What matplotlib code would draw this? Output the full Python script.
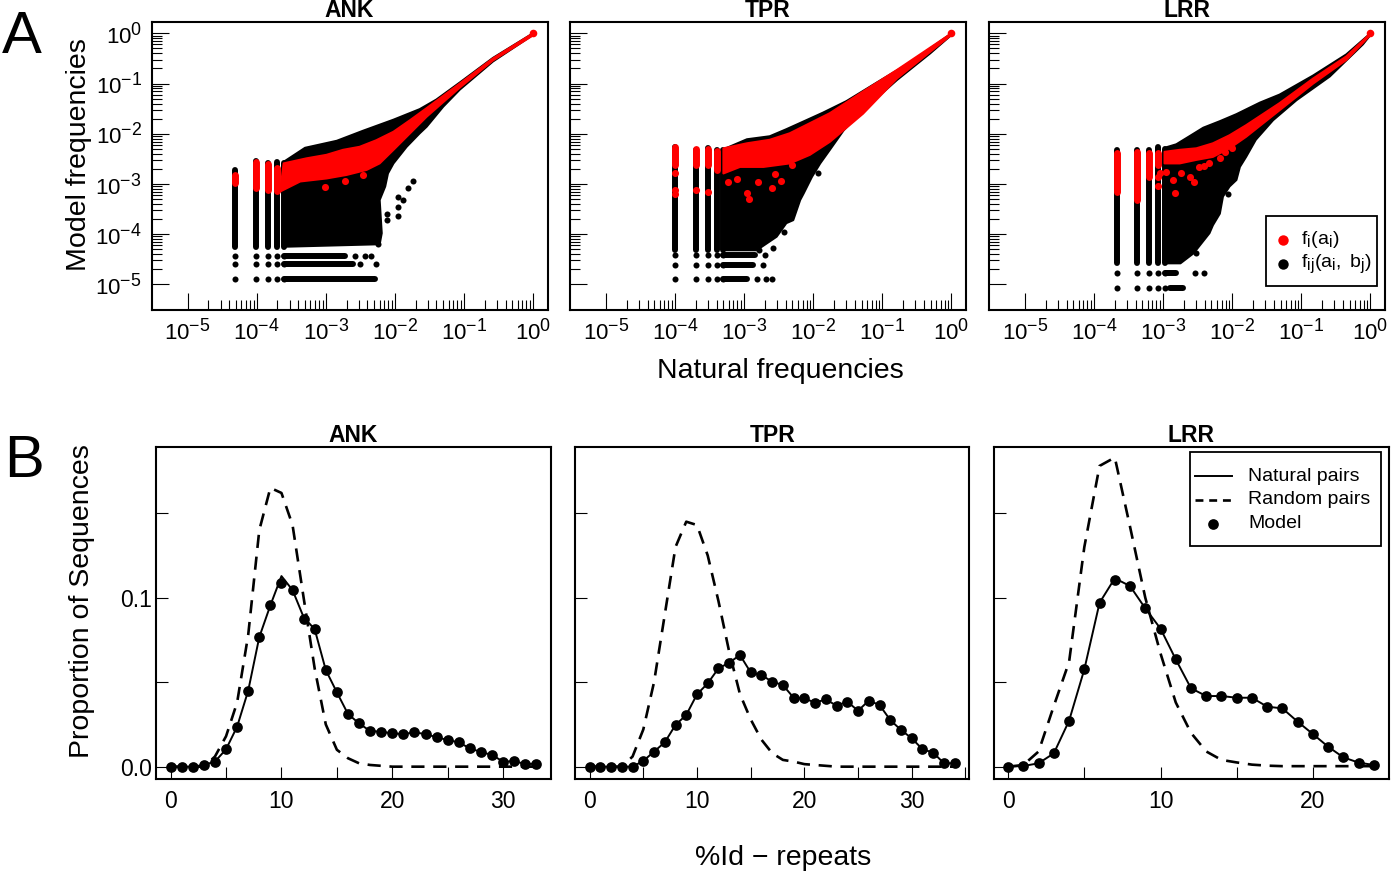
"""
Two-row figure: A) model vs natural frequencies (log-log), B) %Id distributions.
"""
import numpy as np
import matplotlib
matplotlib.use('Agg')
import matplotlib.pyplot as plt
import matplotlib._mathtext as mathtext_internals
from matplotlib.lines import Line2D
from matplotlib.patches import Rectangle

plt.rcParams['font.family'] = ['Liberation Sans', 'DejaVu Sans']
plt.rcParams['mathtext.fontset'] = 'custom'
plt.rcParams['mathtext.rm'] = 'Liberation Sans'
plt.rcParams['mathtext.it'] = 'Liberation Sans:italic'
plt.rcParams['mathtext.bf'] = 'Liberation Sans:bold'
# R draws its superscripts a bit larger than mathtext does
mathtext_internals.SHRINK_FACTOR = 0.8

families = ['ANK', 'TPR', 'LRR']

# ---------------- panel A (all values in log10 units) ----------------
# discrete columns at the lowest natural frequencies (k/N)
ank_col_x = [-4.31, -4.01, -3.83, -3.71, -3.61]
ank_col_top = [-2.72, -2.54, -2.58, -2.56, -2.58]
ank_col_bot = [-4.25, -4.25, -4.25, -4.25, -4.25]
tpr_col_x = [-4.00, -3.70, -3.52, -3.40, -3.30]
tpr_col_top = [-2.27, -2.32, -2.28, -2.33, -2.33]
tpr_col_bot = [-4.32, -4.32, -4.32, -4.32, -4.32]
lrr_col_x = [-3.675, -3.377, -3.20, -3.07, -2.98]
lrr_col_top = [-2.33, -2.32, -2.33, -2.26, -2.30]
lrr_col_bot = [-4.58, -4.58, -4.58, -4.58, -4.58]

# discrete rows of low model frequencies
ank_row_y = [-4.43, -4.60, -4.90]
ank_row_x0 = [-3.61, -3.61, -3.61]
ank_row_x1 = [-2.72, -2.60, -2.29]
tpr_row_y = [-4.42, -4.61, -4.90]
tpr_row_x0 = [-3.30, -3.30, -3.30]
tpr_row_x1 = [-2.84, -2.87, -2.96]
lrr_row_y = [-4.77, -5.07]
lrr_row_x0 = [-2.98, -2.895]
lrr_row_x1 = [-2.81, -2.71]

# outline of the dense black cloud f_ij
ank_up_x = [-3.61, -3.30, -2.84, -2.46, -2.02, -1.64, -1.40, -1.06, -0.58, 0.0]
ank_up_y = [-2.56, -2.28, -2.14, -1.94, -1.72, -1.51, -1.32, -0.98, -0.49, 0.0]
ank_lo_x = [-3.61, -2.22, -2.19, -2.22, -2.14, -2.10, -2.02, -1.83, -1.64, -1.54, -1.30, -1.06, -0.58, 0.0]
ank_lo_y = [-4.25, -4.20, -3.98, -3.32, -3.05, -2.79, -2.59, -2.26, -1.99, -1.86, -1.46, -1.12, -0.56, -0.03]
tpr_up_x = [-3.30, -2.96, -2.63, -2.39, -2.10, -1.86, -1.52, -1.08, -0.55, 0.0]
tpr_up_y = [-2.31, -2.11, -2.05, -1.91, -1.73, -1.58, -1.35, -0.98, -0.54, 0.0]
tpr_lo_x = [-3.30, -2.82, -2.53, -2.39, -2.29, -2.19, -2.14, -2.02, -1.90, -1.76, -1.56, -1.28, -0.79, -0.31, 0.0]
tpr_lo_y = [-4.32, -4.32, -4.05, -3.78, -3.72, -3.32, -3.19, -2.86, -2.59, -2.32, -1.93, -1.53, -0.93, -0.40, -0.03]
lrr_up_x = [-2.98, -2.81, -2.62, -2.42, -2.18, -1.94, -1.60, -1.315, -0.83, -0.35, 0.0]
lrr_up_y = [-2.28, -2.21, -2.05, -1.88, -1.75, -1.61, -1.38, -1.22, -0.84, -0.42, 0.0]
lrr_lo_x = [-2.98, -2.75, -2.56, -2.33, -2.28, -2.18, -2.135, -2.04, -1.94, -1.89, -1.80, -1.66, -1.41, -1.07, -0.59, -0.11, 0.0]
lrr_lo_y = [-4.58, -4.58, -4.38, -3.98, -3.82, -3.59, -3.25, -3.05, -2.92, -2.66, -2.46, -2.12, -1.73, -1.33, -0.86, -0.22, -0.03]

# isolated black points
ank_dot_x = [-2.58, -2.43, -2.34, -2.51, -2.27, -1.95, -1.95, -1.95, -1.88, -1.81, -1.74, -2.12, -2.12, -2.24]
ank_dot_y = [-4.43, -4.43, -4.43, -4.60, -4.60, -3.25, -3.45, -3.64, -3.31, -3.09, -2.95, -3.59, -3.72, -4.20]
tpr_dot_x = [-2.70, -2.73, -2.81, -2.69, -2.60, -2.43, -1.93, -2.78, -2.58]
tpr_dot_y = [-4.42, -4.61, -4.90, -4.90, -4.90, -3.95, -2.79, -4.32, -4.28]
lrr_dot_x = [-2.54, -2.41, -2.06, -2.52]
lrr_dot_y = [-4.77, -4.77, -3.19, -4.38]

# red single-site frequencies f_i
ank_rcol_x = [-4.31, -4.01, -3.83, -3.71]
ank_rcol_top = [-2.82, -2.57, -2.60, -2.69]
ank_rcol_bot = [-2.99, -3.09, -3.12, -3.14]
tpr_rcol_x = [-4.00, -3.70, -3.52, -3.40]
tpr_rcol_top = [-2.26, -2.31, -2.31, -2.35]
tpr_rcol_bot = [-2.63, -2.63, -2.63, -2.73]
lrr_rcol_x = [-3.675, -3.377, -3.20, -3.07]
lrr_rcol_top = [-2.39, -2.37, -2.39, -2.39]
lrr_rcol_bot = [-3.16, -3.32, -2.86, -2.63]

ank_rup_x = [-3.61, -3.28, -2.99, -2.75, -2.51, -2.27, -2.02, -1.78, -1.54, -1.06, -0.58, 0.0]
ank_rup_y = [-2.59, -2.49, -2.42, -2.32, -2.26, -2.13, -1.96, -1.73, -1.49, -1.00, -0.50, 0.0]
ank_rlo_x = [-3.66, -3.37, -2.99, -2.70, -2.41, -2.22, -2.02, -1.78, -1.54, -1.06, -0.58, 0.0]
ank_rlo_y = [-3.15, -2.95, -2.89, -2.82, -2.72, -2.59, -2.32, -1.99, -1.66, -1.08, -0.54, -0.04]
tpr_rup_x = [-3.30, -2.96, -2.63, -2.34, -2.05, -1.76, -1.28, -0.79, 0.0]
tpr_rup_y = [-2.29, -2.19, -2.12, -1.99, -1.79, -1.59, -1.16, -0.73, 0.0]
tpr_rlo_x = [-3.30, -3.06, -2.72, -2.34, -2.05, -1.76, -1.28, -0.79, -0.31, 0.0]
tpr_rlo_y = [-2.79, -2.66, -2.66, -2.59, -2.42, -2.16, -1.60, -0.90, -0.37, -0.03]
lrr_rup_x = [-2.98, -2.76, -2.52, -2.28, -2.04, -1.80, -1.315, -0.83, -0.35, 0.0]
lrr_rup_y = [-2.36, -2.32, -2.29, -2.19, -2.03, -1.83, -1.39, -0.90, -0.46, 0.0]
lrr_rlo_x = [-2.98, -2.76, -2.52, -2.28, -2.04, -1.80, -1.315, -0.83, -0.35, 0.0]
lrr_rlo_y = [-2.59, -2.59, -2.52, -2.46, -2.29, -2.06, -1.53, -1.00, -0.53, -0.03]

ank_rdot_x = [-3.01, -2.72, -2.46]
ank_rdot_y = [-3.07, -2.95, -2.82]
tpr_rdot_x = [-4.00, -4.00, -4.00, -3.70, -3.52, -3.23, -3.11, -2.96, -2.93, -2.80, -2.55, -2.60, -2.46, -2.31]
tpr_rdot_y = [-2.79, -3.12, -3.19, -3.12, -3.15, -2.97, -2.91, -3.17, -3.30, -2.97, -2.80, -3.09, -2.95, -2.62]
lrr_rdot_x = [-3.07, -3.07, -3.05, -2.96, -2.86, -2.83, -2.74, -2.61, -2.56, -2.48, -2.41, -2.34, -2.18, -2.11, -2.01]
lrr_rdot_y = [-2.86, -3.05, -2.79, -2.76, -2.92, -3.17, -2.79, -2.86, -2.97, -2.66, -2.64, -2.59, -2.49, -2.36, -2.29]

# ---------------- panel B ----------------
ank_pid = list(range(34))
ank_model = [0, 0, 0, 0.001, 0.003, 0.0103, 0.0237, 0.045, 0.0767, 0.0955, 0.1089, 0.1045,
             0.0872, 0.0813, 0.0572, 0.044, 0.0312, 0.0256, 0.0211, 0.0207, 0.0197, 0.0193,
             0.0203, 0.0193, 0.0174, 0.0158, 0.0144, 0.0108, 0.0087, 0.0069, 0.003, 0.0032,
             0.0016, 0.0018]
ank_natural = [0, 0, 0, 0.001, 0.003, 0.0103, 0.0237, 0.045, 0.0767, 0.0955, 0.1128, 0.1045,
               0.0885, 0.0813, 0.0572, 0.044, 0.0312, 0.0256, 0.0211, 0.0207, 0.0197, 0.0193,
               0.0203, 0.0193, 0.0174, 0.0158, 0.0144, 0.0108, 0.0087, 0.0069, 0.003, 0.0032,
               0.0016, 0.0018]
ank_random = [0, 0, 0, 0, 0.006, 0.018, 0.038, 0.078, 0.14, 0.165, 0.162, 0.143, 0.1, 0.058,
              0.025, 0.01, 0.005, 0.002, 0.001, 0.0005, 0, 0, 0, 0, 0, 0, 0, 0, 0, 0, 0, 0, 0, 0]

tpr_pid = list(range(35))
tpr_model = [0, 0, 0, 0, 0, 0.0034, 0.0089, 0.0144, 0.0247, 0.0306, 0.0428, 0.0493, 0.0582,
             0.0611, 0.0661, 0.0558, 0.0542, 0.0503, 0.0483, 0.0408, 0.0404, 0.0379, 0.0398,
             0.0361, 0.0385, 0.0331, 0.0391, 0.0365, 0.0276, 0.0217, 0.0168, 0.0103, 0.0083,
             0.002, 0.002]
tpr_natural = [0, 0, 0, 0, 0, 0.0034, 0.0089, 0.0144, 0.0247, 0.0306, 0.0428, 0.0493, 0.0582,
               0.0615, 0.0661, 0.0558, 0.0542, 0.0503, 0.0483, 0.0408, 0.0404, 0.0379, 0.0398,
               0.0361, 0.0385, 0.0331, 0.0391, 0.0365, 0.0276, 0.0217, 0.0168, 0.0103, 0.0083,
               0.002, 0.002]
tpr_random = [0, 0, 0, 0, 0.006, 0.022, 0.05, 0.09, 0.13, 0.145, 0.143, 0.125, 0.098, 0.068,
              0.043, 0.028, 0.016, 0.008, 0.004, 0.003, 0.0015, 0.001, 0.0005, 0, 0, 0, 0, 0,
              0, 0, 0, 0, 0, 0, 0]

lrr_pid = list(range(25))
lrr_model = [0, 0.0004, 0.002, 0.0079, 0.0272, 0.0576, 0.097, 0.1105, 0.1069, 0.0937, 0.0817,
             0.0635, 0.0464, 0.0418, 0.0418, 0.0408, 0.0408, 0.0355, 0.0345, 0.0266, 0.0193,
             0.0118, 0.0055, 0.0024, 0.001]
lrr_natural = [0, 0.0004, 0.002, 0.0079, 0.0272, 0.0576, 0.097, 0.1115, 0.1069, 0.0937, 0.0817,
               0.0635, 0.0464, 0.0418, 0.0418, 0.0408, 0.0408, 0.0355, 0.0345, 0.0266, 0.0193,
               0.0118, 0.0055, 0.0024, 0.001]
lrr_random = [0, 0.001, 0.009, 0.036, 0.062, 0.13, 0.178, 0.183, 0.142, 0.1, 0.067, 0.038, 0.02,
              0.009, 0.004, 0.0025, 0.0012, 0.0006, 0.0003, 0.0003, 0.0003, 0.0003, 0.0003,
              0.0003, 0.0003]

W, H = 1391, 877
fig = plt.figure(figsize=(W / 100, H / 100), dpi=100)


def px_axes(l, t, r, b):
    return fig.add_axes([l / W, 1 - b / H, (r - l) / W, (b - t) / H])


def fx(x):
    return x / W


def fy(y):
    return 1 - y / H


def e(v):
    return 10 ** np.asarray(v, dtype=float)


def draw_scatter(ax, d):
    # black pair frequencies
    ax.fill(e(d['up_x'] + d['lo_x'][::-1]), e(d['up_y'] + d['lo_y'][::-1]),
            color='black', lw=1.5, joinstyle='round', zorder=2)
    ax.vlines(e(d['col_x']), e(d['col_bot']), e(d['col_top']), color='black',
              lw=4.3, capstyle='round', zorder=2)
    for ry, x0, x1 in zip(d['row_y'], d['row_x0'], d['row_x1']):
        ax.hlines(e(ry), e(x0), e(x1), color='black', lw=4.3, capstyle='round', zorder=2)
        ax.scatter(e(d['col_x']), e([ry] * len(d['col_x'])), s=19, color='black',
                   lw=0, zorder=2)
    ax.scatter(e(d['dot_x']), e(d['dot_y']), s=19, color='black', lw=0, zorder=2)
    # red single-site frequencies
    ax.fill(e(d['rup_x'] + d['rlo_x'][::-1]), e(d['rup_y'] + d['rlo_y'][::-1]),
            color='#ff0000', lw=1.5, joinstyle='round', zorder=3)
    ax.vlines(e(d['rcol_x']), e(d['rcol_bot']), e(d['rcol_top']), color='#ff0000',
              lw=5, capstyle='round', zorder=3)
    ax.scatter(e(d['rdot_x']), e(d['rdot_y']), s=26, color='#ff0000', lw=0, zorder=3)
    ax.scatter([1.0], [1.0], s=30, color='#ff0000', lw=0, zorder=3)


scatter_data = {
    'ANK': dict(col_x=ank_col_x, col_top=ank_col_top, col_bot=ank_col_bot,
                row_y=ank_row_y, row_x0=ank_row_x0, row_x1=ank_row_x1,
                up_x=ank_up_x, up_y=ank_up_y, lo_x=ank_lo_x, lo_y=ank_lo_y,
                dot_x=ank_dot_x, dot_y=ank_dot_y,
                rcol_x=ank_rcol_x, rcol_top=ank_rcol_top, rcol_bot=ank_rcol_bot,
                rup_x=ank_rup_x, rup_y=ank_rup_y, rlo_x=ank_rlo_x, rlo_y=ank_rlo_y,
                rdot_x=ank_rdot_x, rdot_y=ank_rdot_y),
    'TPR': dict(col_x=tpr_col_x, col_top=tpr_col_top, col_bot=tpr_col_bot,
                row_y=tpr_row_y, row_x0=tpr_row_x0, row_x1=tpr_row_x1,
                up_x=tpr_up_x, up_y=tpr_up_y, lo_x=tpr_lo_x, lo_y=tpr_lo_y,
                dot_x=tpr_dot_x, dot_y=tpr_dot_y,
                rcol_x=tpr_rcol_x, rcol_top=tpr_rcol_top, rcol_bot=tpr_rcol_bot,
                rup_x=tpr_rup_x, rup_y=tpr_rup_y, rlo_x=tpr_rlo_x, rlo_y=tpr_rlo_y,
                rdot_x=tpr_rdot_x, rdot_y=tpr_rdot_y),
    'LRR': dict(col_x=lrr_col_x, col_top=lrr_col_top, col_bot=lrr_col_bot,
                row_y=lrr_row_y, row_x0=lrr_row_x0, row_x1=lrr_row_x1,
                up_x=lrr_up_x, up_y=lrr_up_y, lo_x=lrr_lo_x, lo_y=lrr_lo_y,
                dot_x=lrr_dot_x, dot_y=lrr_dot_y,
                rcol_x=lrr_rcol_x, rcol_top=lrr_rcol_top, rcol_bot=lrr_rcol_bot,
                rup_x=lrr_rup_x, rup_y=lrr_rup_y, rlo_x=lrr_rlo_x, rlo_y=lrr_rlo_y,
                rdot_x=lrr_rdot_x, rdot_y=lrr_rdot_y),
}

ident_data = {
    'ANK': (ank_pid, ank_natural, ank_random, ank_model, (-1.32, 34.32)),
    'TPR': (tpr_pid, tpr_natural, tpr_random, tpr_model, (-1.36, 35.36)),
    'LRR': (lrr_pid, lrr_natural, lrr_random, lrr_model, (-0.96, 24.96)),
}

a_boxes = [(151.7, 22.3, 547.5, 310), (570, 22.3, 966, 310), (989, 22.3, 1385, 310)]
b_boxes = [(156, 447, 551, 779), (575, 447, 969.3, 779), (993.5, 447, 1388.5, 779)]

decades = [1e-5, 1e-4, 1e-3, 1e-2, 1e-1, 1e0]
decade_labels = [r'$10^{-5}$', r'$10^{-4}$', r'$10^{-3}$', r'$10^{-2}$', r'$10^{-1}$', r'$10^{0}$']
minor = [k * 10.0 ** d for d in range(-5, 0) for k in range(2, 10)]
dash = (0, (5, 3.3))

for i, fam in enumerate(families):
    # ---- A ----
    ax = px_axes(*a_boxes[i])
    draw_scatter(ax, scatter_data[fam])
    ax.set_xscale('log')
    ax.set_yscale('log')
    ax.set_xlim(10 ** -5.52, 10 ** 0.21)
    ax.set_ylim(10 ** -5.51, 10 ** 0.22)
    ax.set_xticks(decades, labels=decade_labels)
    ax.set_yticks(decades, labels=decade_labels if i == 0 else [''] * 6)
    ax.set_xticks(minor, minor=True)
    ax.set_yticks(minor, minor=True)
    ax.xaxis.set_minor_formatter(plt.NullFormatter())
    ax.yaxis.set_minor_formatter(plt.NullFormatter())
    ax.tick_params(which='major', direction='in', length=12, width=0.8, labelsize=16,
                   top=False, right=False)
    ax.tick_params(which='minor', direction='in', length=7, width=0.8, top=False, right=False)
    ax.tick_params(axis='x', which='major', pad=6)
    ax.tick_params(axis='y', which='major', pad=7)
    for sp in ax.spines.values():
        sp.set_linewidth(1.5)
    ax.set_title(fam, fontsize=16.5, fontweight='bold', pad=3)

    # ---- B ----
    pid, natural, random_pairs, model, xlim = ident_data[fam]
    ax = px_axes(*b_boxes[i])
    ax.plot(pid, natural, color='black', lw=1.4, zorder=2)
    ax.plot(pid, random_pairs, color='black', lw=1.9, ls=dash, zorder=2)
    ax.plot(pid, model, ls='none', marker='o', color='black', mew=0, markersize=7.7, zorder=3)
    ax.set_xlim(*xlim)
    ax.set_ylim(-0.0073, 0.1892)
    xt = list(range(0, int(xlim[1]) + 1, 5))
    ax.set_xticks(xt, labels=[str(t) if t % 10 == 0 else '' for t in xt])
    ax.set_yticks([0, 0.05, 0.1, 0.15],
                  labels=['0.0', '', '0.1', ''] if i == 0 else [''] * 4)
    ax.tick_params(direction='in', length=8.5, width=0.8, labelsize=16.5, top=False, right=False)
    ax.tick_params(axis='x', pad=8)
    ax.tick_params(axis='y', pad=3)
    for sp in ax.spines.values():
        sp.set_linewidth(1.5)
    ax.set_title(fam, fontsize=16.5, fontweight='bold', pad=3)

# legend of panel A (inside the LRR plot)
fig.add_artist(Rectangle((fx(1266), fy(286)), 111 / W, 70 / H, transform=fig.transFigure,
                         facecolor='white', edgecolor='black', lw=1.3, zorder=5))
for yy, col, lab in [(239.5, '#ff0000', r'$\mathrm{f_i(a_i)}$'),
                     (263.5, 'black', r'$\mathrm{f_{ij}(a_i,\ b_j)}$')]:
    fig.add_artist(Line2D([fx(1283)], [fy(yy)], transform=fig.transFigure, ls='none',
                          marker='o', color=col, mew=0, markersize=7.5, zorder=6))
    fig.text(fx(1301), fy(yy), lab, fontsize=14, ha='left', va='center', zorder=6)

# legend of panel B (inside the LRR plot)
fig.add_artist(Rectangle((fx(1190), fy(546)), 191 / W, 94 / H, transform=fig.transFigure,
                         facecolor='white', edgecolor='black', lw=1.3, zorder=5))
fig.add_artist(Line2D([fx(1195), fx(1232)], [fy(476.5), fy(476.5)], transform=fig.transFigure,
                      color='black', lw=1.4, zorder=6))
fig.add_artist(Line2D([fx(1195), fx(1232)], [fy(500), fy(500)], transform=fig.transFigure,
                      color='black', lw=1.9, ls=(0, (3, 2.2)), zorder=6))
fig.add_artist(Line2D([fx(1213)], [fy(523.5)], transform=fig.transFigure, ls='none',
                      marker='o', color='black', mew=0, markersize=7.7, zorder=6))
for yy, lab in [(476.5, 'Natural pairs'), (500, 'Random pairs'), (523.5, 'Model')]:
    fig.text(fx(1248), fy(yy), lab, fontsize=14, ha='left', va='center', zorder=6)

# axis labels and panel letters
fig.text(fx(78.7), fy(155), 'Model frequencies', rotation=90, fontsize=20.5,
         ha='center', va='center')
fig.text(fx(780), fy(378), 'Natural frequencies', fontsize=20.5, ha='center', va='baseline')
fig.text(fx(82.5), fy(601), 'Proportion of Sequences', rotation=90, fontsize=20.5,
         ha='center', va='center')
fig.text(fx(783), fy(865), '%Id \u2212 repeats', fontsize=20.5, ha='center', va='baseline')
fig.text(fx(2), fy(53), 'A', fontsize=43, ha='left', va='baseline')
fig.text(fx(4), fy(477), 'B', fontsize=43, ha='left', va='baseline')

fig.savefig('out.png', dpi=100)
